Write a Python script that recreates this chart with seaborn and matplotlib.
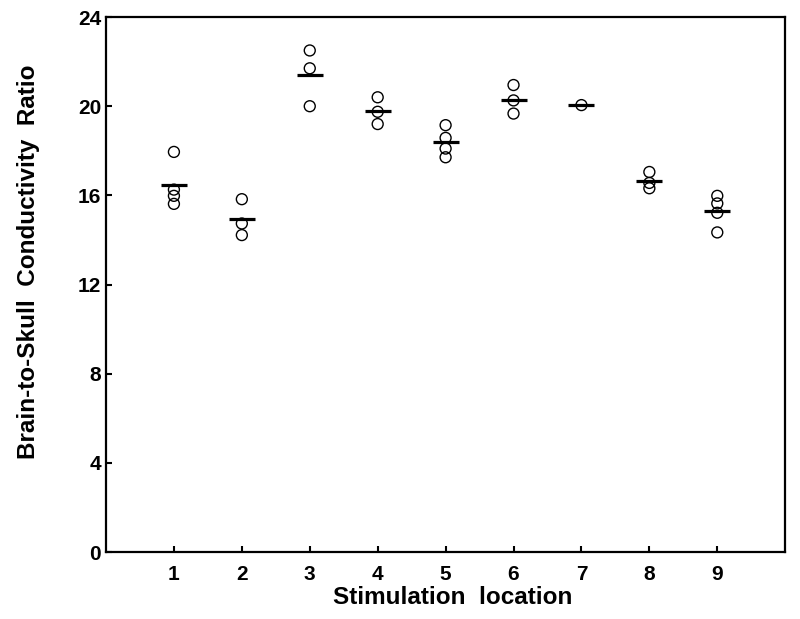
import numpy as np
import pandas as pd
import matplotlib
matplotlib.use("Agg")
import matplotlib.pyplot as plt
import seaborn as sns

locations = [1, 1, 1, 1, 2, 2, 2, 3, 3, 3, 4, 4, 4, 5, 5, 5, 5,
             6, 6, 6, 7, 8, 8, 8, 9, 9, 9, 9]
ratios = [17.95, 16.26, 15.98, 15.62,
          15.83, 14.74, 14.22,
          22.5, 21.7, 20.0,
          20.4, 19.75, 19.2,
          19.15, 18.58, 18.1, 17.71,
          20.95, 20.26, 19.67,
          20.05,
          17.05, 16.56, 16.32,
          15.98, 15.64, 15.22, 14.34]
xticks = [1, 2, 3, 4, 5, 6, 7, 8, 9]
yticks = [0, 4, 8, 12, 16, 20, 24]

df = pd.DataFrame({"loc": locations, "ratio": ratios})
means = df.groupby("loc", as_index=False)["ratio"].mean()

sns.set_style("ticks")
plt.rcParams["font.family"] = ["Liberation Sans", "DejaVu Sans"]
plt.rcParams["font.weight"] = "bold"
plt.rcParams["text.color"] = "black"
plt.rcParams["axes.labelcolor"] = "black"
plt.rcParams["xtick.color"] = "black"
plt.rcParams["ytick.color"] = "black"

fig = plt.figure(figsize=(8, 6.19), dpi=100)
ax = fig.add_axes([0.1325, 0.108, 0.849, 0.8645])

sns.scatterplot(data=df, x="loc", y="ratio", ax=ax, marker="o", s=62,
                facecolor="none", edgecolor="black", linewidth=1.0, zorder=3,
                legend=False)
sns.scatterplot(data=means, x="loc", y="ratio", ax=ax, marker="_", s=370,
                color="black", linewidth=2.3, zorder=4, legend=False)

ax.set_xlim(0, 10)
ax.set_ylim(0, 24)
ax.set_xticks(xticks)
ax.set_yticks(yticks)
ax.set_xticklabels([str(v) for v in xticks], fontsize=15, fontweight="bold")
ax.set_yticklabels([str(v) for v in yticks], fontsize=15, fontweight="bold")
ax.tick_params(direction="in", length=4.5, width=1.5, colors="black")
ax.tick_params(axis="y", pad=3.5)
ax.tick_params(axis="x", pad=9.5)
for sp in ax.spines.values():
    sp.set_visible(True)
    sp.set_linewidth(1.6)
    sp.set_color("black")
ax.set_xlabel("Stimulation  location", fontsize=17.5, fontweight="bold", labelpad=1)
ax.set_ylabel("Brain-to-Skull  Conductivity  Ratio", fontsize=17.5,
              fontweight="bold", labelpad=27)
ax.xaxis.label.set_x(0.511)
ax.yaxis.label.set_y(0.542)

fig.savefig("out.png", dpi=100)
